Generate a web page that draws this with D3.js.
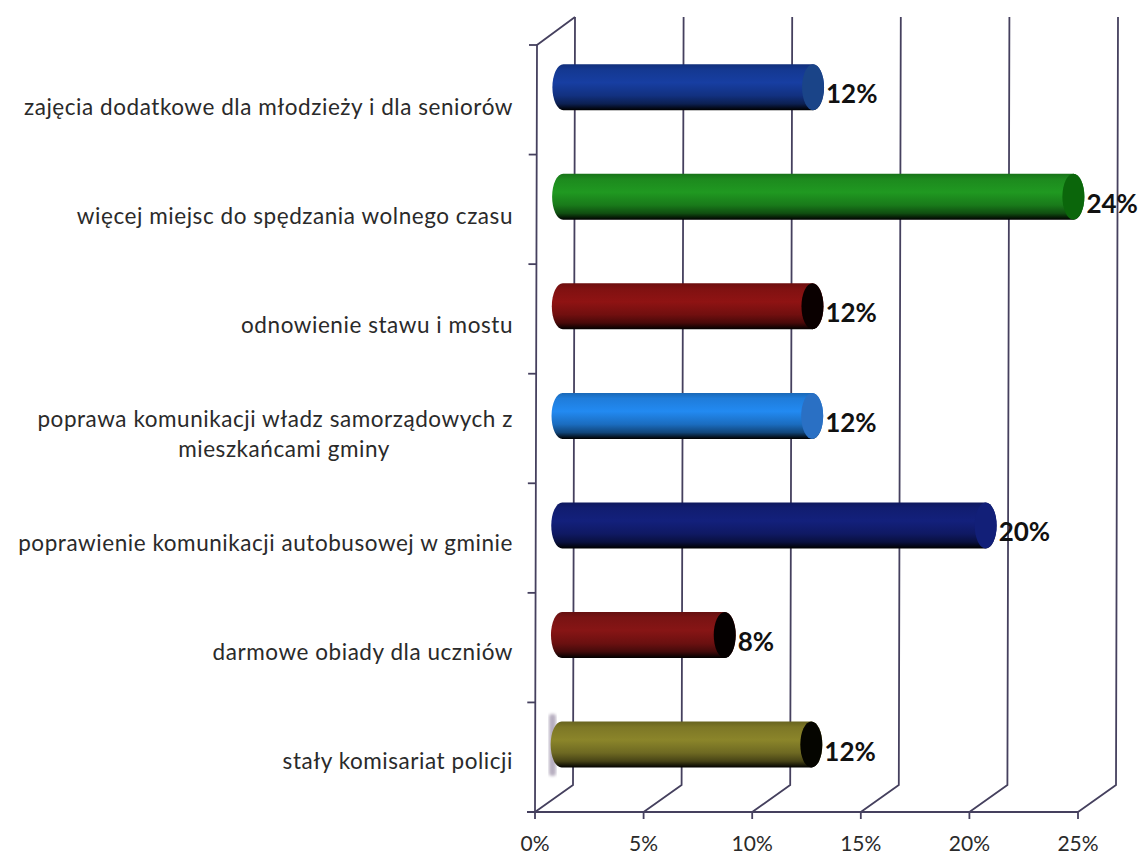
<!DOCTYPE html>
<html><head><meta charset="utf-8">
<script src="https://cdn.jsdelivr.net/npm/d3@7/dist/d3.min.js"></script>
<style>html,body{margin:0;background:#fff}svg{display:block}text{font-family:Lato,"Open Sans",sans-serif}</style>
</head><body><svg id="c" width="1140" height="856"></svg>
<script>
const categories = ["zajęcia dodatkowe dla młodzieży i dla seniorów","więcej miejsc do spędzania wolnego czasu","odnowienie stawu i mostu","poprawa komunikacji władz samorządowych z\nmieszkańcami gminy","poprawienie komunikacji autobusowej w gminie","darmowe obiady dla uczniów","stały komisariat policji"];
const values = [12,24,12,12,20,8,12];
const barColors = ["#163c9c","#1f9420","#8a1212","#2185ea","#121f78","#821414","#868029"];
const capColors = ["#1a4488","#0b660b","#0a0000","#2a70c4","#121f78","#050000","#050500"];
const tickValues = [0,5,10,15,20,25];

const svg = d3.select("#c");
const x = d3.scaleLinear().domain([0,25]).range([535,1078]);
const y = d3.scaleBand().domain(categories).range([45,812]);
const yLabel = d3.scaleBand().domain(categories).range([60.5,823.5]);
const lean = py => (812-py)*2/767;
const dx = 38, dy = 27, lineCol = "#45405e";
const defs = svg.append("defs");
defs.append("filter").attr("id","blur").append("feGaussianBlur").attr("stdDeviation",1.5);

barColors.forEach((c,i)=>{
  const g = defs.append("linearGradient").attr("id","g"+i).attr("x1",0).attr("x2",0).attr("y1",0).attr("y2",1);
  const k = d3.color(c);
  [[0,k.darker(0.7)],[0.12,k.darker(0.2)],[0.4,k.brighter(0.1)],[0.68,k.darker(0.55)],[0.86,k.darker(1.8)],[1,d3.rgb(0,0,0)]]
    .forEach(([o,col])=>g.append("stop").attr("offset",o).attr("stop-color",col));
});

// back-wall gridlines and floor diagonals
const grid = svg.append("g").attr("fill","none").attr("stroke",lineCol).attr("stroke-width",1.8);
tickValues.forEach(t=>{
  grid.append("path").attr("d",`M${x(t)},812L${x(t)+dx},${812-dy}L${x(t)+dx+2},17`);
});
// left wall + axes
grid.append("path").attr("d",`M535,812L537,45L${x(0)+dx+2},17`);
grid.append("path").attr("d",`M527,812L${x(25)},812`).attr("stroke-width",2);
d3.range(0,8).map(i=>45+i*767/7).forEach(py=>{
  grid.append("line").attr("x1",527+lean(py)).attr("x2",535+lean(py)).attr("y1",py).attr("y2",py);
});
tickValues.forEach(t=>grid.append("line").attr("x1",x(t)).attr("x2",x(t)).attr("y1",812).attr("y2",819));

// tick labels
svg.append("g").selectAll("text").data(tickValues).join("text")
  .attr("x",d=>x(d)).attr("y",851).attr("text-anchor","middle")
  .attr("font-size",21).attr("fill","#2a2a2a").text(d=>d+"%");

// smudge by the last bar
svg.append("rect").attr("x",549).attr("y",714).attr("width",7).attr("height",62).attr("rx",3).attr("fill","#9a8ea6").attr("opacity",.7).attr("filter","url(#blur)");

// cylinders
const rx = 11, h = 46;
const bars = svg.append("g").selectAll("g").data(categories).join("g");
bars.each(function(cat,i){
  const g = d3.select(this);
  const cy = y(cat)+y.bandwidth()/2-12.6;
  const left = x(0)+lean(cy)+15.5;
  const end = x(values[i])+lean(cy)+15.5;
  const top = cy-h/2, bot = cy+h/2;
  g.append("path")
    .attr("d",`M${left+rx},${top}L${end},${top}A${rx},${h/2} 0 0 1 ${end},${bot}L${left+rx},${bot}A${rx},${h/2} 0 0 1 ${left+rx},${top}Z`)
    .attr("fill",`url(#g${i})`);
  g.append("ellipse").attr("cx",end).attr("cy",cy).attr("rx",rx).attr("ry",h/2).attr("fill",capColors[i]);
  g.append("text").attr("x",end+rx+2).attr("y",cy+16).attr("font-size",26).attr("font-weight",700).attr("fill","#111").text(values[i]+"%");
});

// category labels
svg.append("g").selectAll("text").data(categories).join("text")
  .attr("font-size",22.5).attr("letter-spacing",0.55).attr("fill","#2a2a2a").attr("text-anchor","end")
  .each(function(cat){
    const base = yLabel(cat)+yLabel.bandwidth()/2;
    const lines = cat.split("\n");
    const sel = d3.select(this);
    lines.forEach((l,j)=>sel.append("tspan")
      .attr("x",lines.length>1&&j===1?390:513)
      .attr("y",lines.length>1?(j===0?base-15:base+15):base).text(l));
  });
</script></body></html>
